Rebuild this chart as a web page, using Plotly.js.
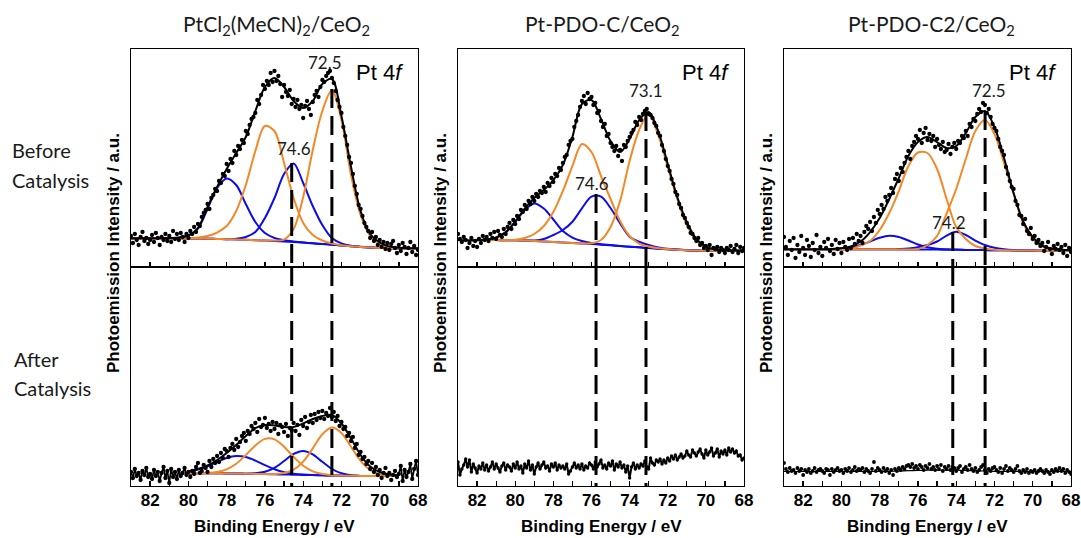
<!DOCTYPE html>
<html>
<head>
<meta charset="utf-8">
<script src="https://cdn.plot.ly/plotly-3.0.1.min.js"></script>
<style>html,body{margin:0;padding:0;background:#fff;}#chart{width:1081px;height:538px;}</style>
</head>
<body>
<div id="chart"></div>
<script>
// ---------------- DATA ----------------
// binding-energy grid of the fitted curves (eV)
const be = [83,82.5,82,81.5,81,80.5,80,79.5,79,78.5,78,77.5,77,76.5,76,75.5,75,74.5,74,73.5,73,72.5,72,71.5,71,70.5,70,69.5,69,68.5,68];
// binding-energy grid of the measured points (eV)
const beData = [83,82.9,82.8,82.7,82.6,82.5,82.4,82.3,82.2,82.1,82,81.9,81.8,81.7,81.6,81.5,81.4,81.3,81.2,81.1,81,80.9,80.8,80.7,80.6,80.5,80.4,80.3,80.2,80.1,80,79.9,79.8,79.7,79.6,79.5,79.4,79.3,79.2,79.1,79,78.9,78.8,78.7,78.6,78.5,78.4,78.3,78.2,78.1,78,77.9,77.8,77.7,77.6,77.5,77.4,77.3,77.2,77.1,77,76.9,76.8,76.7,76.6,76.5,76.4,76.3,76.2,76.1,76,75.9,75.8,75.7,75.6,75.5,75.4,75.3,75.2,75.1,75,74.9,74.8,74.7,74.6,74.5,74.4,74.3,74.2,74.1,74,73.9,73.8,73.7,73.6,73.5,73.4,73.3,73.2,73.1,73,72.9,72.8,72.7,72.6,72.5,72.4,72.3,72.2,72.1,72,71.9,71.8,71.7,71.6,71.5,71.4,71.3,71.2,71.1,71,70.9,70.8,70.7,70.6,70.5,70.4,70.3,70.2,70.1,70,69.9,69.8,69.7,69.6,69.5,69.4,69.3,69.2,69.1,69,68.9,68.8,68.7,68.6,68.5,68.4,68.3,68.2,68.1,68];

// ---- PtCl2(MeCN)2/CeO2, before catalysis ----
const p1Data = [31,24,33,27,22,30,35,26,29,23,27,32,25,34,29,22,30,27,33,26,31,25,36,28,33,27,34,30,25,33,29,36,33,40,35,43,41,50,54,57,63,58,69,72,78,76,86,84,93,91,103,96,108,104,116,112,121,118,127,124,136,133,142,148,150,154,167,163,172,182,178,186,182,194,185,196,186,191,183,170,182,175,171,177,163,168,160,167,158,162,149,161,166,158,152,165,172,176,170,180,187,185,191,194,196,189,184,176,167,160,154,140,131,122,110,104,93,81,73,62,58,51,44,40,36,29,35,26,30,22,27,20,25,18,24,17,23,26,19,14,22,16,24,20,13,19,25,15,21,12,17];
const p1Fit = [28.7,28.7,28.8,28.9,29.0,29.6,31.5,39,60,80,98,114,130,156,180,189,180,166,159,166,183,188,151,100,56,33,24.5,20.5,19.3,18.8,18.7];
const p1Bg = [28.6,28.6,28.6,28.6,28.6,28.6,28.6,28.5,28.3,28.0,27.8,27.5,27.2,26.8,26.4,26.0,25.5,25.0,24.4,23.7,23.0,22.3,21.6,20.8,20.1,19.5,19.1,18.8,18.7,18.7,18.7];
const p1Pt72 = [28.6,28.6,28.6,28.6,28.6,28.6,28.6,28.5,28.3,28.0,27.8,27.5,27.2,26.8,26.6,26.5,27.5,38,70,117,156,177,147,92,52,31,23.5,20,18.9,18.7,18.7];
const p1Pt76 = [28.6,28.6,28.6,28.6,28.6,28.6,28.8,29.5,31,34.5,41,56,82,116,141,136,104,69,44,32,26.5,23.5,21.8,20.8,20.1,19.5,19.1,18.8,18.7,18.7,18.7];
const p1Ox75 = [28.6,28.6,28.6,28.6,28.6,28.6,28.6,28.5,28.3,28.0,27.8,28.2,30,35,49,69,93,103.5,84,61,42,29,23.7,21.3,20.3,19.6,19.1,18.8,18.7,18.7,18.7];
const p1Ox78 = [28.6,28.6,28.6,28.6,28.8,29.4,31.5,38.5,58,79,88.5,82,63,45,34,29,26.8,25.5,24.5,23.7,23.0,22.3,21.6,20.8,20.1,19.5,19.1,18.8,18.7,18.7,18.7];

// ---- PtCl2(MeCN)2/CeO2, after catalysis ----
const p1bData = [14,8,17,10,13,6,15,11,18,9,12,7,16,10,14,5,13,19,8,15,3,17,9,14,7,16,10,13,18,11,14,9,15,12,19,23,13,15,21,18,14,25,19,27,23,30,24,33,28,37,35,29,38,42,36,47,39,44,50,53,45,55,52,60,57,63,54,67,59,61,68,58,62,55,64,57,63,52,61,59,54,62,50,58,56,63,55,61,51,66,60,69,58,64,71,63,72,66,74,68,75,67,73,70,78,69,74,65,70,60,64,57,59,50,53,45,49,38,42,31,34,27,29,22,25,17,23,14,19,11,16,8,13,18,10,13,6,11,15,9,12,20,5,16,9,14,22,7,17,25,11];
const p1bFit = [null,null,null,null,null,null,14.5,17,20.5,26,33,41,50,58,61,60.5,59,59,62.5,67,70,71,62.5,47.5,31,19.5,14,11.5,10.7,null,null];
const p1bBg = [null,null,null,null,null,null,12.7,12.7,12.7,12.7,12.6,12.5,12.3,12.1,11.9,11.7,11.5,11.3,11.1,10.9,10.7,10.5,10.3,10.2,10.1,10,10,10,10,null,null];
const p1bPt72 = [null,null,null,null,null,null,12.7,12.7,12.7,12.7,12.6,12.5,12.3,12.1,11.9,12.0,12.9,16.3,24.4,37.6,51.7,58.5,53.1,39.3,25.2,16.0,11.8,10.4,10,null,null];
const p1bPt76 = [null,null,null,null,null,null,12.7,12.8,13.1,14.1,16.7,22.2,30.9,40.6,47.1,46.6,39.3,29.1,20.3,14.7,12.0,10.8,10.3,10.2,10.1,10,10,10,10,null,null];
const p1bOx74 = [null,null,null,null,null,null,12.7,12.7,12.7,12.7,12.6,12.5,12.3,12.7,14.3,18.2,25.0,32.1,35.1,31.7,24.2,17.0,12.7,10.8,10.1,10,10,10,10,null,null];
const p1bOx77 = [null,null,null,null,null,null,14.3,16.4,19.8,24.1,28.0,29.9,28.9,25.4,20.8,16.8,13.9,12.3,11.4,10.9,10.7,10.5,10.3,10.2,10.1,10,10,10,10,null,null];

// ---- Pt-PDO-C/CeO2, before catalysis ----
const p2Data = [33,28,25,30,27,19,24,29,21,26,20,28,24,31,27,30,26,33,29,35,28,36,32,30,38,33,40,44,38,47,43,51,48,57,55,62,58,66,63,70,66,73,70,76,74,80,75,84,81,89,85,93,91,99,97,104,110,112,122,126,128,140,146,152,160,166,171,163,174,168,170,162,164,154,156,146,140,143,131,133,124,120,116,121,111,117,106,122,120,126,130,134,137,145,142,150,147,153,156,158,153,152,149,144,141,134,131,122,116,108,101,96,88,83,75,72,63,59,52,49,44,40,34,33,29,26,29,22,24,19,21,17,22,12,19,18,20,15,19,17,14,19,17,21,15,18,22,14,20,16,19];
const p2Fit = [27,26.6,26.8,27.5,29.5,35,45.5,58.5,69,77,87,102,130,163,167,148,126,115,128,147,155,136,103,70,45,28,20.5,17.6,16.8,16.4,16.3];
const p2Bg = [27,27,27,27,26.9,26.8,26.7,26.5,26.0,25.5,25.0,24.5,24.0,23.5,23.0,22.3,21.7,21.0,20.3,19.7,19.0,18.3,17.7,17.2,16.8,16.5,16.3,16.3,16.3,16.3,16.3];
const p2Pt73 = [27,27,27,27,26.9,26.8,26.7,26.5,26.0,25.5,25.0,24.5,24.0,23.5,23.8,27,40,66,106,137,153,132,100,68,42,27,20,17.3,16.6,16.3,16.3];
const p2Pt76 = [27,27,27,27,26.9,26.8,27.2,29,33,41,55,76,101,123,115,91,68,46,31,23.5,20.5,18.8,17.9,17.2,16.8,16.5,16.3,16.3,16.3,16.3,16.3];
const p2Ox76 = [27,27,27,27,26.9,26.8,26.7,26.5,26.5,28,32,37,45.3,58.7,70.3,70.3,59,43.7,30.3,25.3,22,19.5,18.2,17.4,16.8,16.5,16.3,16.3,16.3,16.3,16.3];
const p2Ox79 = [27,27,27.1,27.5,29.3,34.5,45,57,63.5,58.5,47.5,36,29.5,26,24,22.8,21.9,21.0,20.3,19.7,19.0,18.3,17.7,17.2,16.8,16.5,16.3,16.3,16.3,16.3,16.3];

// ---- Pt-PDO-C/CeO2, after catalysis ----
const p2bData = [24,11,17,21,27,19,26,14,22,18,13,20,17,23,16,21,15,19,24,17,22,18,14,20,23,16,21,19,15,22,18,24,17,20,13,22,18,25,16,21,12,19,23,17,21,24,18,20,15,22,19,23,16,21,18,20,17,22,12,15,19,23,18,21,17,22,16,20,18,23,21,17,24,19,22,26,18,21,17,23,20,25,16,22,19,24,18,21,14,20,8,19,23,17,21,18,22,20,25,19,17,28,23,21,26,24,27,22,26,23,28,25,30,27,31,26,29,32,28,30,35,31,29,36,33,30,34,37,32,28,36,31,34,38,30,33,37,29,35,32,36,31,38,34,37,33,35,30,31,26,28];

// ---- Pt-PDO-C2/CeO2, before catalysis ----
const p3Data = [30,20,12,26,17,29,9,22,15,31,19,12,27,21,10,24,17,32,14,20,11,25,19,28,16,22,13,27,18,24,14,25,20,17,28,19,29,23,33,26,31,24,35,41,38,45,36,50,44,57,53,62,58,70,66,72,79,74,88,93,86,99,95,104,110,116,108,121,125,131,128,137,124,134,139,127,133,126,131,120,128,122,118,125,115,117,123,113,120,124,118,126,124,131,129,136,131,143,140,148,146,153,158,155,164,162,154,158,150,143,139,136,128,120,116,112,100,93,86,80,78,66,62,52,51,43,48,36,33,39,28,31,24,27,21,24,16,20,25,18,13,21,18,23,17,20,14,22,11,19,15];
const p3Fit = [17.7,17.7,17.7,17.7,17.8,18.1,18.8,20.5,25.5,35,49,68,89,111,125,130,125,119,121,134,150,156,140,109,74,45.5,30,21.5,18.3,17.2,16.8];
const p3Bg = [17.7,17.7,17.7,17.7,17.7,17.7,17.7,17.7,17.7,17.7,17.7,17.7,17.6,17.6,17.5,17.5,17.4,17.3,17.2,17.1,17.0,16.9,16.8,16.7,16.6,16.5,16.4,16.3,16.3,16.3,16.3];
const p3Pt72 = [17.7,17.7,17.7,17.7,17.7,17.7,17.7,17.7,17.7,17.7,17.7,17.7,17.6,17.6,18,22,31,53.7,78,108,136,147,133,104,73,44,28.5,20.5,17.5,16.6,16.3];
const p3Pt76 = [17.7,17.7,17.7,17.7,17.7,17.7,17.7,17.7,21.7,26,37,54,76,101,114.5,114,98,68,40,28,21,18.5,17.2,16.7,16.6,16.5,16.4,16.3,16.3,16.3,16.3];
const p3Ox74 = [17.7,17.7,17.7,17.7,17.7,17.7,17.7,17.7,17.7,17.7,17.7,17.7,18,18.5,19.8,22,25.5,31.5,35.3,32,26.5,22,19.3,17.8,16.9,16.5,16.4,16.3,16.3,16.3,16.3];
const p3Ox77 = [17.7,17.7,17.7,17.7,17.7,17.9,18.4,19.6,22,25.5,29.2,31.3,30,26.5,22.5,19.8,18.4,17.8,17.4,17.1,17.0,16.9,16.8,16.7,16.6,16.5,16.4,16.3,16.3,16.3,16.3];

// ---- Pt-PDO-C2/CeO2, after catalysis ----
const p3bData = [23,17,14,18,15,16,13,18,15,17,11,16,14,17,13,15,18,14,16,17,15,13,17,16,11,17,14,16,18,15,16,13,17,15,18,14,16,19,15,17,16,18,14,17,15,13,17,24,15,18,16,14,18,15,17,13,16,11,17,15,18,16,19,17,20,21,19,22,18,20,17,21,19,16,20,18,22,17,19,16,20,17,21,15,19,17,20,16,19,18,15,18,20,14,17,19,16,21,17,15,18,14,16,19,21,16,13,17,15,18,19,16,14,18,13,17,20,15,18,16,14,17,20,15,13,16,14,17,13,15,14,16,13,15,17,15,13,16,14,12,16,14,17,15,18,15,17,13,16,14,12];
const p3bFit = [14.5,14.5,14.5,14.5,14.5,14.5,14.5,14.5,14.5,14.5,14.5,14.6,14.9,15.3,15.6,15.8,15.9,15.9,15.8,15.6,15.3,15.0,14.7,14.5,14.5,14.5,14.5,14.5,14.5,14.5,14.5];

// peak positions marked by dashed lines (eV) and where they start (intensity)
const p1Peaks = [74.6, 72.5];   const p1PeakTop = [104, 178];
const p2Peaks = [75.76, 73.14]; const p2PeakTop = [73, 155];
const p3Peaks = [74.18, 72.49]; const p3PeakTop = [35, 156];
const p1PeakLabels = ['72.5', '74.6'];
const p2PeakLabels = ['73.1', '74.6'];
const p3PeakLabels = ['72.5', '74.2'];

const panelTitles = ['PtCl<sub>2</sub>(MeCN)<sub>2</sub>/CeO<sub>2</sub>', 'Pt-PDO-C/CeO<sub>2</sub>', 'Pt-PDO-C2/CeO<sub>2</sub>'];
const tickVals = [82,80,78,76,74,72,70,68];
const tickText = ['82','80','78','76','74','72','70','68'];

// ---------------- STYLE ----------------
const ORANGE = 'rgb(243,137,38)';
const BLUE = 'rgb(12,12,235)';
const BLACK = '#000';
const traces = [];

function curve(x, y, color, width, xa, ya) {
  traces.push({x: x, y: y, mode: 'lines', line: {color: color, width: width, shape: 'spline', smoothing: 0.9},
    xaxis: xa, yaxis: ya, hoverinfo: 'skip', connectgaps: false});
}
function dots(x, y, xa, ya, size) {
  traces.push({x: x, y: y, mode: 'markers', marker: {color: BLACK, size: size || 4.3},
    xaxis: xa, yaxis: ya, hoverinfo: 'skip'});
}
function dashed(e, y0, y1, xa, ya) {
  traces.push({x: [e, e], y: [y0, y1], mode: 'lines', line: {color: BLACK, width: 3, dash: '19px,8px'},
    xaxis: xa, yaxis: ya, hoverinfo: 'skip'});
}

// panel 1 top
curve(be, p1Bg, BLUE, 2, 'x', 'y');
curve(be, p1Ox78, BLUE, 2, 'x', 'y');
curve(be, p1Ox75, BLUE, 2, 'x', 'y');
curve(be, p1Pt76, ORANGE, 2, 'x', 'y');
curve(be, p1Pt72, ORANGE, 2, 'x', 'y');
curve(be, p1Fit, BLACK, 2, 'x', 'y');
dots(beData, p1Data, 'x', 'y');
// panel 1 bottom
const p1bEdge = p1bData.map((v, i) => (beData[i] >= 79.45 || beData[i] <= 69.05) ? v : null);
traces.push({x: beData, y: p1bEdge, mode: 'lines', line: {color: BLACK, width: 1.7}, xaxis: 'x2', yaxis: 'y2', hoverinfo: 'skip', connectgaps: false});
curve(be, p1bBg, BLUE, 2, 'x2', 'y2');
curve(be, p1bOx77, BLUE, 2, 'x2', 'y2');
curve(be, p1bOx74, BLUE, 2, 'x2', 'y2');
curve(be, p1bPt76, ORANGE, 2, 'x2', 'y2');
curve(be, p1bPt72, ORANGE, 2, 'x2', 'y2');
curve(be, p1bFit, BLACK, 2, 'x2', 'y2');
dots(beData, p1bData, 'x2', 'y2');

// panel 2 top
curve(be, p2Bg, BLUE, 2, 'x3', 'y3');
curve(be, p2Ox79, BLUE, 2, 'x3', 'y3');
curve(be, p2Ox76, BLUE, 2, 'x3', 'y3');
curve(be, p2Pt76, ORANGE, 2, 'x3', 'y3');
curve(be, p2Pt73, ORANGE, 2, 'x3', 'y3');
curve(be, p2Fit, BLACK, 2, 'x3', 'y3');
dots(beData, p2Data, 'x3', 'y3');
// panel 2 bottom
traces.push({x: beData, y: p2bData, mode: 'lines+markers', line: {color: BLACK, width: 2},
  marker: {color: BLACK, size: 3.4}, xaxis: 'x4', yaxis: 'y4', hoverinfo: 'skip'});

// panel 3 top
curve(be, p3Bg, BLUE, 2, 'x5', 'y5');
curve(be, p3Ox77, BLUE, 2, 'x5', 'y5');
curve(be, p3Ox74, BLUE, 2, 'x5', 'y5');
curve(be, p3Pt76, ORANGE, 2, 'x5', 'y5');
curve(be, p3Pt72, ORANGE, 2, 'x5', 'y5');
curve(be, p3Fit, BLACK, 2, 'x5', 'y5');
dots(beData, p3Data, 'x5', 'y5');
// panel 3 bottom
curve(be, p3bFit, BLACK, 1.2, 'x6', 'y6');
dots(beData, p3bData, 'x6', 'y6', 3.8);

// dashed peak markers (top part + continuation through the lower panel)
const TOPMAX = 218, BOTMAX = 219;
[[p1Peaks, p1PeakTop, 'x', 'y', 'x2', 'y2'], [p2Peaks, p2PeakTop, 'x3', 'y3', 'x4', 'y4'], [p3Peaks, p3PeakTop, 'x5', 'y5', 'x6', 'y6']]
  .forEach(([pk, top, xt, yt, xb, yb]) => {
    pk.forEach((e, i) => { dashed(e, top[i], 0, xt, yt); dashed(e, BOTMAX, 0, xb, yb); });
  });

// ---------------- LAYOUT ----------------
const colDom = [[0, 0.3053], [0.3479, 0.6521], [0.6947, 1]];
const topDom = [0.5011, 1], botDom = [0, 0.5011];
const tickFont = {family: 'Liberation Sans, Arial, sans-serif', size: 17, color: BLACK, weight: 'bold'};
function xAxis(dom, anchor, labels) {
  const a = {domain: dom, anchor: anchor, range: [83, 68], tickmode: 'array', tickvals: tickVals,
    ticks: 'inside', ticklen: 5, tickwidth: 1.3, tickcolor: BLACK, showticklabels: labels,
    minor: {dtick: 1, tick0: 0, ticks: 'inside', ticklen: 5, tickwidth: 1.3, tickcolor: BLACK, showgrid: false},
    showline: true, linecolor: BLACK, linewidth: 1.3, mirror: true, showgrid: false, zeroline: false,
    tickfont: tickFont, ticklabelstandoff: -2, fixedrange: true};
  if (labels) a.ticktext = tickText;
  return a;
}
function yAxis(dom, anchor, max) {
  return {domain: dom, anchor: anchor, range: [0, max], showticklabels: false, ticks: '',
    showline: true, linecolor: BLACK, linewidth: 1.3, mirror: true, showgrid: false, zeroline: false, fixedrange: true};
}

const calib = 'Lato, "Open Sans", sans-serif';
const ann = [];
const titleX = [0.1553, 0.5011, 0.8511];
panelTitles.forEach((t, i) => ann.push({text: t, xref: 'paper', yref: 'paper', x: titleX[i], y: 1.055,
  xanchor: 'center', yanchor: 'middle', showarrow: false, font: {family: calib, size: 21, color: '#1a1a1a'}}));
[['Before', 0.769], ['Catalysis', 0.700], ['After', 0.2906], ['Catalysis', 0.2243]].forEach(([t, y], i) =>
  ann.push({text: t, xref: 'paper', yref: 'paper', x: -0.1283 + (i >= 2 ? 0.002 : 0), y: y, xanchor: 'left', yanchor: 'middle',
    showarrow: false, font: {family: calib, size: 20, color: '#1a1a1a'}}));
['x', 'x3', 'x5'].forEach(xa => ann.push({text: 'Photoemission Intensity / a.u.', xref: xa + ' domain', yref: 'paper',
  x: 0, xshift: -17.5, y: 0.532, textangle: -90, xanchor: 'center', yanchor: 'middle', showarrow: false,
  font: {family: 'Liberation Sans, Arial, sans-serif', size: 17, color: BLACK, weight: 'bold'}}));
['x2', 'x4', 'x6'].forEach(xa => ann.push({text: 'Binding Energy / eV', xref: xa + ' domain', yref: 'paper',
  x: 0.5, y: -0.0938, xanchor: 'center', yanchor: 'middle', showarrow: false,
  font: {family: 'Liberation Sans, Arial, sans-serif', size: 17, color: BLACK, weight: 'bold'}}));
[['x', 'y'], ['x3', 'y3'], ['x5', 'y5']].forEach(([xa, ya]) => ann.push({text: 'Pt 4<i>f</i>', xref: xa + ' domain', yref: ya + ' domain',
  x: 1, xshift: -12, y: 0.894, xanchor: 'right', yanchor: 'middle', showarrow: false,
  font: {family: 'Liberation Sans, Arial, sans-serif', size: 22, color: BLACK}}));
const labelPos = [
  ['x', 'y', p1PeakLabels, [[72.86, 205], [74.48, 119]]],
  ['x3', 'y3', p2PeakLabels, [[73.14, 177], [75.97, 84]]],
  ['x5', 'y5', p3PeakLabels, [[72.28, 177], [74.37, 45]]]
];
labelPos.forEach(([xa, ya, labs, pos]) => labs.forEach((t, i) => ann.push({text: t, xref: xa, yref: ya,
  x: pos[i][0], y: pos[i][1], xanchor: 'center', yanchor: 'middle', showarrow: false,
  font: {family: calib, size: 17, color: '#1a1a1a'}})));

const layout = {
  width: 1081, height: 538, margin: {l: 131, r: 10, t: 49, b: 52},
  paper_bgcolor: '#fff', plot_bgcolor: 'rgba(0,0,0,0)', showlegend: false,
  xaxis: xAxis(colDom[0], 'y', false), yaxis: yAxis(topDom, 'x', TOPMAX),
  xaxis2: xAxis(colDom[0], 'y2', true), yaxis2: yAxis(botDom, 'x2', BOTMAX),
  xaxis3: xAxis(colDom[1], 'y3', false), yaxis3: yAxis(topDom, 'x3', TOPMAX),
  xaxis4: xAxis(colDom[1], 'y4', true), yaxis4: yAxis(botDom, 'x4', BOTMAX),
  xaxis5: xAxis(colDom[2], 'y5', false), yaxis5: yAxis(topDom, 'x5', TOPMAX),
  xaxis6: xAxis(colDom[2], 'y6', true), yaxis6: yAxis(botDom, 'x6', BOTMAX),
  annotations: ann
};
Plotly.newPlot('chart', traces, layout, {displayModeBar: false, staticPlot: true});
</script>
</body>
</html>
